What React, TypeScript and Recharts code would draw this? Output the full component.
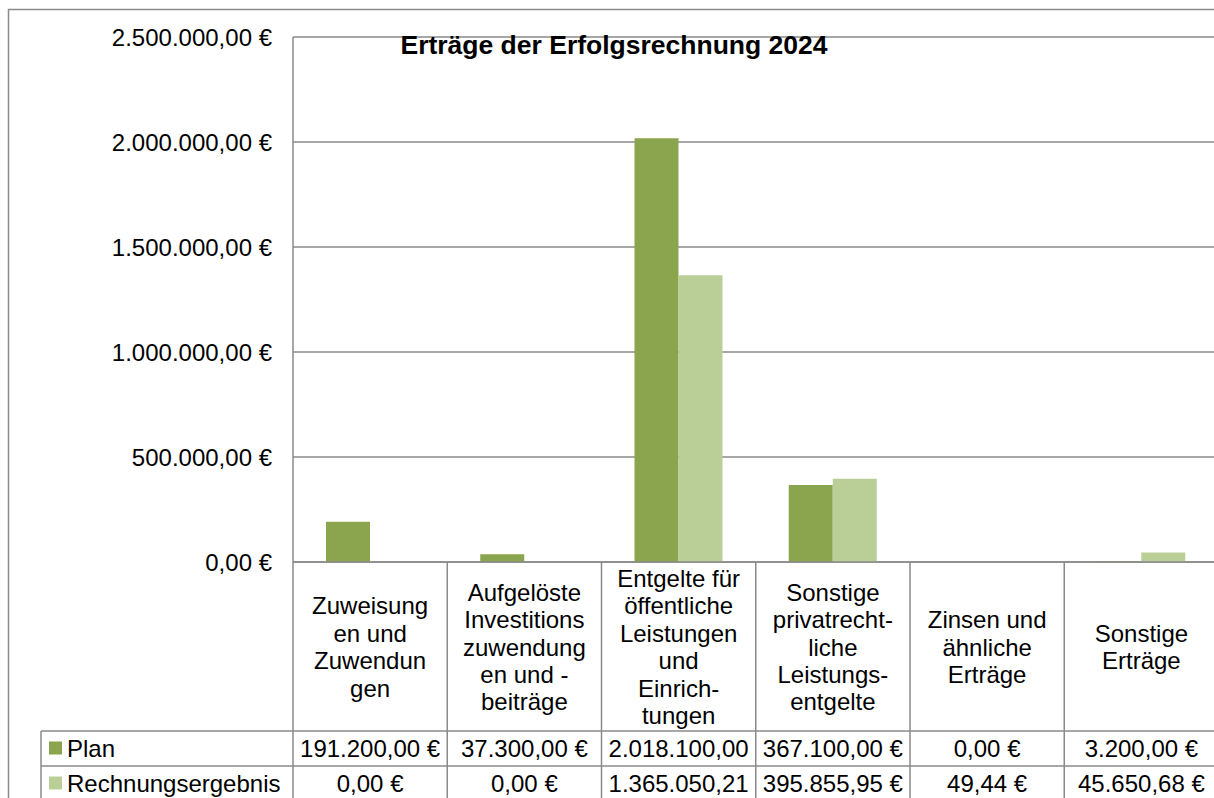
import { BarChart, Bar, XAxis, YAxis, CartesianGrid } from 'recharts';

const CATEGORIES = [
  'Zuweisungen und Zuwendungen',
  'Aufgelöste Investitionszuwendungen und -beiträge',
  'Entgelte für öffentliche Leistungen und Einrichtungen',
  'Sonstige privatrechtliche Leistungsentgelte',
  'Zinsen und ähnliche Erträge',
  'Sonstige Erträge',
];

// wrapped the way the table shows them
const CATEGORY_LINES = [
  ['Zuweisung', 'en und', 'Zuwendun', 'gen'],
  ['Aufgelöste', 'Investitions', 'zuwendung', 'en und -', 'beiträge'],
  ['Entgelte für', 'öffentliche', 'Leistungen', 'und', 'Einrich-', 'tungen'],
  ['Sonstige', 'privatrecht-', 'liche', 'Leistungs-', 'entgelte'],
  ['Zinsen und', 'ähnliche', 'Erträge'],
  ['Sonstige', 'Erträge'],
];

const PLAN = [191200, 37300, 2018100, 367100, 0, 3200];
const RECHNUNG = [0, 0, 1365050.21, 395855.95, 49.44, 45650.68];

const Y_TICKS = [0, 500000, 1000000, 1500000, 2000000, 2500000];

const TITLE = 'Erträge der Erfolgsrechnung 2024';
const SERIES = [
  { key: 'plan', name: 'Plan', values: PLAN, color: '#8ba54e' },
  { key: 'rechnung', name: 'Rechnungsergebnis', values: RECHNUNG, color: '#bacf98' },
];

const FONT = '"Liberation Sans", Arial, sans-serif';
const LINE = '#8a8a8a';

const data = CATEGORIES.map((name, i) => ({ name, plan: PLAN[i], rechnung: RECHNUNG[i] }));

function formatDe(v: number, euro = true) {
  const [int, dec] = v.toFixed(2).split('.');
  const withDots = int.replace(/\B(?=(\d{3})+(?!\d))/g, '.');
  return `${withDots},${dec}${euro ? ' €' : ''}`;
}

function TableTick(props: any) {
  const { x, y, payload, width } = props;
  const i = CATEGORIES.indexOf(payload.value);
  const bw = width / CATEGORIES.length;
  const left = x - bw / 2;
  const right = x + bw / 2;
  const lines = CATEGORY_LINES[i];
  const lh = 27.4;
  const cy = y + 85;
  const startY = cy - ((lines.length - 1) * lh) / 2;
  const rowTop = y + 169;
  const rowMid = y + 204;
  return (
    <g fontFamily={FONT} fontSize={24} fill="#000">
      {i === 0 && <line x1={left} x2={left} y1={y} y2={y + 260} stroke={LINE} strokeWidth={1.5} />}
      <line x1={right} x2={right} y1={y} y2={y + 260} stroke={LINE} strokeWidth={1.5} />
      <line x1={left} x2={right} y1={rowTop} y2={rowTop} stroke={LINE} strokeWidth={1.5} />
      <line x1={left} x2={right} y1={rowMid} y2={rowMid} stroke={LINE} strokeWidth={1.5} />
      {lines.map((t, k) => (
        <text key={k} x={x} y={startY + k * lh + 8.5} textAnchor="middle">{t}</text>
      ))}
      {SERIES.map((s, k) => {
        const v = s.values[i];
        // millions don't fit the cell, Excel drops the currency sign
        return (
          <text key={s.key} x={x} y={(k === 0 ? y + 186 : y + 221) + 8.5} textAnchor="middle">
            {formatDe(v, v < 1000000)}
          </text>
        );
      })}
    </g>
  );
}

export default function App() {
  return (
    <div style={{ position: 'absolute', left: 0, top: 0, width: 1214, height: 798, overflow: 'hidden', background: '#fff' }}>
      <BarChart
        width={1230}
        height={812}
        data={data}
        margin={{ top: 37, right: 11.5, bottom: 0, left: 0 }}
        barCategoryGap={33}
        barGap={0}
      >
        <rect x={8.5} y={9.5} width={1300} height={900} fill="none" stroke={LINE} strokeWidth={1.5} />
        <CartesianGrid vertical={false} stroke={LINE} strokeWidth={1.5} />
        <YAxis
          width={293}
          domain={[0, 2500000]}
          ticks={Y_TICKS}
          tickFormatter={(v: number) => formatDe(v)}
          tickSize={0}
          tickMargin={21}
          tickLine={false}
          axisLine={{ stroke: LINE, strokeWidth: 1.5 }}
          tick={{ fill: '#000', fontSize: 24, fontFamily: FONT }}
          interval={0}
        />
        <XAxis
          dataKey="name"
          height={250}
          tickSize={0}
          tickMargin={0}
          tickLine={false}
          axisLine={{ stroke: LINE, strokeWidth: 1.5 }}
          interval={0}
          tick={<TableTick />}
        />
        {SERIES.map((s) => (
          <Bar key={s.key} dataKey={s.key} name={s.name} fill={s.color} isAnimationActive={false} />
        ))}
        <g fontFamily={FONT} fontSize={24} fill="#000">
          <line x1={41} x2={41} y1={731} y2={812} stroke={LINE} strokeWidth={1.5} />
          <line x1={41} x2={293} y1={731} y2={731} stroke={LINE} strokeWidth={1.5} />
          <line x1={41} x2={293} y1={766} y2={766} stroke={LINE} strokeWidth={1.5} />
          {SERIES.map((s, k) => (
            <g key={s.key}>
              <rect x={49} y={(k === 0 ? 748 : 783) - 6.5} width={13} height={13} fill={s.color} />
              <text x={67} y={(k === 0 ? 748 : 783) + 8.5}>{s.name}</text>
            </g>
          ))}
          <text x={614} y={54} textAnchor="middle" fontWeight="bold" fontSize={26.5}>{TITLE}</text>
        </g>
      </BarChart>
    </div>
  );
}
